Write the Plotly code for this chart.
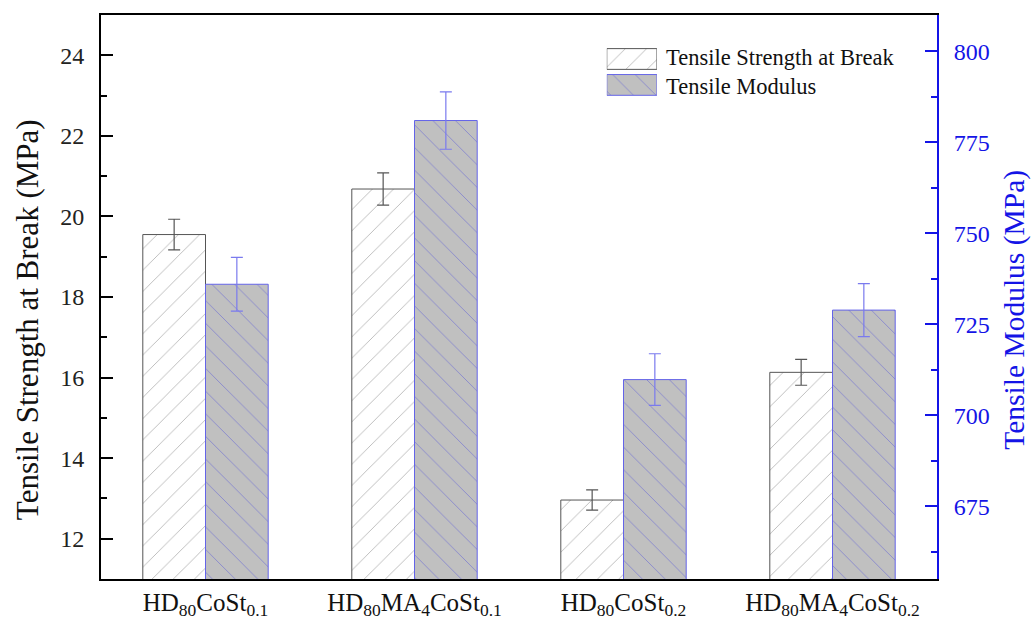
import plotly.graph_objects as go

# Sample names (HTML subscripts for the compositions)
samples = [
    "HD<sub>80</sub>CoSt<sub>0.1</sub>",
    "HD<sub>80</sub>MA<sub>4</sub>CoSt<sub>0.1</sub>",
    "HD<sub>80</sub>CoSt<sub>0.2</sub>",
    "HD<sub>80</sub>MA<sub>4</sub>CoSt<sub>0.2</sub>",
]

# Tensile strength at break (MPa) and its standard deviation
strength = [19.55, 20.68, 12.96, 16.13]
strength_err = [0.38, 0.40, 0.25, 0.32]

# Tensile modulus (MPa) and its standard deviation
modulus = [736.0, 781.0, 709.8, 728.9]
modulus_err = [7.4, 7.9, 7.1, 7.3]

series_names = ["Tensile Strength at Break", "Tensile Modulus"]
axis_titles = ["Tensile Strength at Break (MPa)", "Tensile Modulus (MPa)"]

FONT = "Liberation Serif"
BLUE = "#1414e6"
BAR_BLUE = "#6464e8"

xpos = list(range(len(samples)))

fig = go.Figure()

fig.add_trace(go.Bar(
    x=xpos, y=strength, width=0.3, offset=-0.3,
    name=series_names[0], showlegend=False,
    marker=dict(color="white",
                line=dict(color="#555555", width=1),
                pattern=dict(shape="/", fgcolor="#555555", bgcolor="white",
                             size=15, solidity=0.05)),
    error_y=dict(type="data", array=strength_err, color="#555555",
                 thickness=1.2, width=6),
    xaxis="x", yaxis="y",
))

fig.add_trace(go.Bar(
    x=xpos, y=modulus, width=0.3, offset=0.0,
    name=series_names[1], showlegend=False,
    marker=dict(color="#c0c0c0",
                line=dict(color=BAR_BLUE, width=1),
                pattern=dict(shape="\\", fgcolor="#4040dd", bgcolor="#c0c0c0",
                             size=16, solidity=0.05)),
    error_y=dict(type="data", array=modulus_err, color="#7a7aee",
                 thickness=1.2, width=6),
    xaxis="x", yaxis="y2",
))

# Legend swatches drawn as two small horizontal bars on their own axes
fig.add_trace(go.Bar(
    y=[1], x=[1], orientation="h", width=0.8, showlegend=False, hoverinfo="skip",
    marker=dict(color="white", line=dict(color="#555555", width=1),
                pattern=dict(shape="/", fgcolor="#555555", bgcolor="white",
                             size=15, solidity=0.05)),
    xaxis="x3", yaxis="y3",
))
fig.add_trace(go.Bar(
    y=[0], x=[1], orientation="h", width=0.8, showlegend=False, hoverinfo="skip",
    marker=dict(color="#c0c0c0", line=dict(color=BAR_BLUE, width=1),
                pattern=dict(shape="\\", fgcolor="#4040dd", bgcolor="#c0c0c0",
                             size=16, solidity=0.05)),
    xaxis="x3", yaxis="y3",
))

# Legend texts
fig.add_annotation(text=series_names[0], xref="paper", yref="paper",
                   x=0.674, y=0.9245, xanchor="left", yanchor="middle",
                   showarrow=False, font=dict(family=FONT, size=22.5, color="#111111"))
fig.add_annotation(text=series_names[1], xref="paper", yref="paper",
                   x=0.674, y=0.873, xanchor="left", yanchor="middle",
                   showarrow=False, font=dict(family=FONT, size=22.5, color="#111111"))

# Axis titles
fig.add_annotation(text=axis_titles[0], xref="paper", yref="paper",
                   x=-0.0885, y=0.459, xanchor="center", yanchor="middle",
                   textangle=-90, showarrow=False,
                   font=dict(family=FONT, size=31, color="#111111"))
fig.add_annotation(text=axis_titles[1], xref="paper", yref="paper",
                   x=1.093, y=0.477, xanchor="center", yanchor="middle",
                   textangle=-90, showarrow=False,
                   font=dict(family=FONT, size=29.5, color=BLUE))

fig.update_layout(
    width=1031, height=627,
    margin=dict(l=101, r=94, t=15, b=48),
    paper_bgcolor="white", plot_bgcolor="white",
    font=dict(family=FONT, size=24, color="#111111"),
    barmode="overlay",
    xaxis=dict(
        range=[-0.5, 3.5], tickmode="array", tickvals=xpos, ticktext=samples,
        showline=True, linecolor="black", linewidth=2, mirror=True,
        ticks="", showgrid=False, zeroline=False, automargin=False,
        tickfont=dict(family=FONT, size=25, color="#111111"),
    ),
    yaxis=dict(
        range=[11, 25], tickvals=[12, 14, 16, 18, 20, 22, 24],
        showline=True, linecolor="black", linewidth=2, automargin=False,
        ticks="inside", ticklen=12, tickwidth=2, tickcolor="black",
        minor=dict(ticks="inside", ticklen=6, tickwidth=2, tickcolor="black", dtick=1),
        showgrid=False, zeroline=False,
        tickfont=dict(family=FONT, size=24, color="#222222"),
        ticklabelstandoff=10,
    ),
    yaxis2=dict(
        range=[655, 810], tickvals=[675, 700, 725, 750, 775, 800],
        overlaying="y", side="right", anchor="x", automargin=False,
        showline=True, linecolor=BLUE, linewidth=2,
        ticks="inside", ticklen=12, tickwidth=2, tickcolor=BLUE,
        minor=dict(ticks="inside", ticklen=6, tickwidth=2, tickcolor=BLUE, dtick=12.5),
        showgrid=False, zeroline=False,
        tickfont=dict(family=FONT, size=24, color=BLUE),
        ticklabelstandoff=10,
    ),
    xaxis3=dict(domain=[0.605, 0.665], range=[0, 1], visible=False,
                anchor="y3", fixedrange=True),
    yaxis3=dict(domain=[0.853, 0.945], range=[-0.5, 1.5], visible=False,
                anchor="x3", fixedrange=True),
)

fig.write_html("out.html")
